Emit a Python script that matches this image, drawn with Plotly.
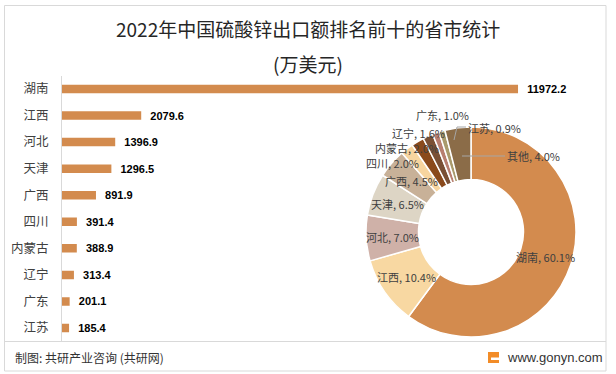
import math
import plotly.graph_objects as go

# ---------------- data ----------------
provinces = ["湖南", "江西", "河北", "天津", "广西", "四川", "内蒙古", "辽宁", "广东", "江苏"]
export_values = [11972.2, 2079.6, 1396.9, 1296.5, 891.9, 391.4, 388.9, 313.4, 201.1, 185.4]
other_label = "其他"
other_value = 796.6  # estimated so that share = 4.0%

pie_labels = provinces + [other_label]
pie_values = export_values + [other_value]

title_line1 = "2022年中国硫酸锌出口额排名前十的省市统计"
title_line2 = "(万美元)"
source_text = "制图: 共研产业咨询 (共研网)"
site_text = "www.gonyn.com"

# ---------------- styles ----------------
W, H = 616, 374
bar_color = "#D38B4E"
pie_colors = ["#D38B4E", "#F8D8A2", "#CFB1A8", "#DDD5C5", "#C8B198", "#F7D59F",
              "#8A4A1C", "#7A5035", "#B87F70", "#A99A6C", "#8B6C48"]
CJK = "Noto Sans CJK SC"

def px(x):
    return x / W

def py(y):
    return 1 - y / H

# donut geometry (pixels)
cx, cy, R_out, hole = 471, 232, 105, 0.5
r_mid = R_out * (1 + hole) / 2

# labels of the small slices were placed by hand in the original
manual_label_pos = {
    "四川": (392, 163),
    "内蒙古": (407, 148),
    "辽宁": (418, 133),
    "广东": (442, 115),
    "江苏": (494, 128),
    "其他": (533, 156),
}

fig = go.Figure()

# ---------------- bar chart ----------------
fig.add_trace(go.Bar(
    x=export_values,
    y=provinces,
    orientation="h",
    marker=dict(color=bar_color, line=dict(width=0)),
    text=["  " + f"{v:.1f}" for v in export_values],
    textposition="outside",
    constraintext="none",
    textfont=dict(family="Liberation Sans", size=11, color="#000000", weight="bold"),
    cliponaxis=False,
    hoverinfo="skip",
    xaxis="x", yaxis="y",
    showlegend=False,
))

fig.update_layout(
    xaxis=dict(domain=[px(62), px(560)], range=[0, 13074], visible=False,
               fixedrange=True, automargin=False),
    yaxis=dict(domain=[py(341.3), py(75.7)], autorange="reversed",
               showline=True, linecolor="#D9D9D9", linewidth=1,
               showgrid=False, zeroline=False, ticks="", automargin=False,
               ticklabelstandoff=10,
               tickfont=dict(family=CJK, size=12.5, color="#404040")),
    bargap=0.68,
)

# ---------------- donut ----------------
fig.add_trace(go.Pie(
    labels=pie_labels,
    values=pie_values,
    hole=hole,
    sort=False,
    direction="clockwise",
    rotation=0,
    marker=dict(colors=pie_colors, line=dict(color="#FFFFFF", width=1.5)),
    textinfo="none",
    automargin=False,
    domain=dict(x=[px(cx - R_out), px(cx + R_out)], y=[py(cy + R_out), py(cy - R_out)]),
    showlegend=False,
    hoverinfo="label+percent",
))

total = sum(pie_values)
annotations = []
cum = 0.0
for lab, val in zip(pie_labels, pie_values):
    frac = val / total
    mid = cum + frac / 2
    cum += frac
    txt = f"{lab}, {frac * 100:.1f}%"
    if lab in manual_label_pos:
        lx, ly = manual_label_pos[lab]
    else:
        theta = 2 * math.pi * mid
        lx = cx + r_mid * math.sin(theta)
        ly = cy - r_mid * math.cos(theta)
    annotations.append(dict(
        x=px(lx), y=py(ly), xref="paper", yref="paper",
        text=txt, showarrow=False, xanchor="center", yanchor="middle",
        font=dict(family=CJK, size=11, color="#404040"),
    ))

# titles and footer
annotations += [
    dict(x=0.5, y=py(29), xref="paper", yref="paper", text=title_line1, showarrow=False,
         xanchor="center", yanchor="middle", font=dict(family=CJK, size=19, color="#262626")),
    dict(x=0.5, y=py(63), xref="paper", yref="paper", text=title_line2, showarrow=False,
         xanchor="center", yanchor="middle", font=dict(family=CJK, size=19, color="#262626")),
    dict(x=px(13), y=py(357), xref="paper", yref="paper", text=source_text, showarrow=False,
         xanchor="left", yanchor="middle", font=dict(family=CJK, size=12, color="#333333")),
    dict(x=px(605), y=py(357), xref="paper", yref="paper", text=site_text, showarrow=False,
         xanchor="right", yanchor="middle", font=dict(family="Liberation Sans", size=13, color="#333333")),
]

shapes = [
    # outer frame
    dict(type="rect", xref="paper", yref="paper", x0=px(4.5), y0=py(371), x1=px(606), y1=py(5.5),
         line=dict(color="#D9D9D9", width=1), fillcolor="rgba(0,0,0,0)", layer="below"),
    # footer separator
    dict(type="line", xref="paper", yref="paper", x0=px(4.5), y0=py(341.5), x1=px(606), y1=py(341.5),
         line=dict(color="#D9D9D9", width=1)),
    # leader line for 其他
    dict(type="line", xref="paper", yref="paper", x0=px(462), y0=py(156), x1=px(505), y1=py(156),
         line=dict(color="#A6A6A6", width=1)),
    # leader line for 江苏
    dict(type="path", xref="paper", yref="paper",
         path=f"M {px(454)} {py(140)} L {px(457)} {py(127)} L {px(466)} {py(127)}",
         line=dict(color="#A6A6A6", width=1)),
    # logo
    dict(type="rect", xref="paper", yref="paper", x0=px(488), y0=py(363), x1=px(499), y1=py(352),
         line=dict(width=0), fillcolor="#F28C28"),
    dict(type="rect", xref="paper", yref="paper", x0=px(491), y0=py(360), x1=px(499), y1=py(357.5),
         line=dict(width=0), fillcolor="#FFFFFF"),
]

fig.update_layout(
    width=W, height=H,
    margin=dict(l=0, r=0, t=0, b=0, autoexpand=False),
    paper_bgcolor="#FFFFFF",
    plot_bgcolor="#FFFFFF",
    annotations=annotations,
    shapes=shapes,
    showlegend=False,
)

fig.write_html("out.html",
               config={"displayModeBar": False},
               post_script="document.body.style.margin='0px';document.body.style.padding='0px';")
